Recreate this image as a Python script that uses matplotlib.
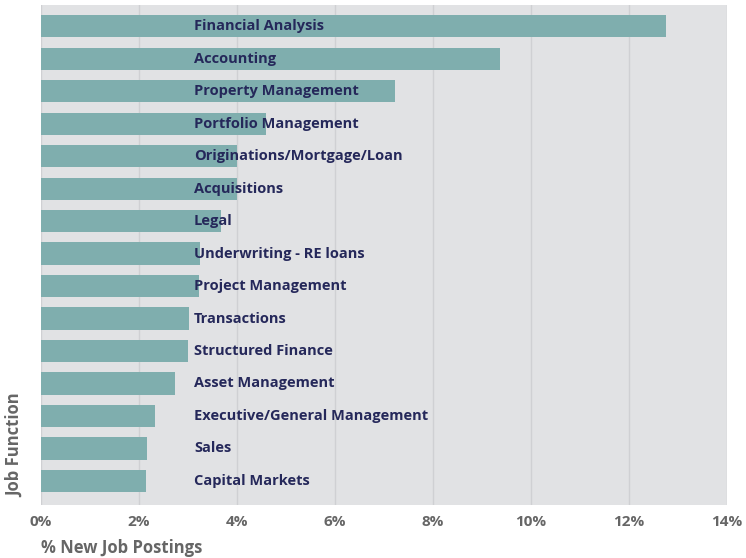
import matplotlib
matplotlib.use("Agg")
import matplotlib.pyplot as plt

# Job functions, top to bottom
functions = ['Financial Analysis', 'Accounting', 'Property Management',
             'Portfolio Management', 'Originations/Mortgage/Loan', 'Acquisitions',
             'Legal', 'Underwriting - RE loans', 'Project Management',
             'Transactions', 'Structured Finance', 'Asset Management',
             'Executive/General Management', 'Sales', 'Capital Markets']

# % of new job postings
share = [12.75, 9.37, 7.22, 4.6, 4.0, 4.0, 3.67, 3.24, 3.22,
         3.02, 3.0, 2.73, 2.33, 2.16, 2.14]

xticks = [0, 2, 4, 6, 8, 10, 12, 14]
xtick_labels = ['0%', '2%', '4%', '6%', '8%', '10%', '12%', '14%']

label_x = 3.12  # where the category names start

plt.rcParams['font.family'] = ['Open Sans', 'DejaVu Sans']

fig = plt.figure(figsize=(7.46, 5.58), dpi=100)
ax = fig.add_axes([41 / 746, 53 / 558, 686 / 746, 500 / 558])
ax.set_facecolor('#e1e2e4')

ypos = list(range(len(functions)))[::-1]
ax.barh(ypos, share, height=0.68, color='#7faeae', zorder=2)

for y, name in zip(ypos, functions):
    ax.text(label_x, y, name, ha='left', va='center', fontsize=10.5,
            fontweight='bold', color='#25285a', zorder=3)

ax.set_xlim(0, 14)
ax.set_ylim(-0.74, 14.65)
ax.set_xticks(xticks)
ax.set_xticklabels(xtick_labels, fontsize=11, color='#666666', fontweight='bold')
ax.set_yticks([])
ax.tick_params(axis='x', length=0, pad=7)
ax.grid(axis='x', color='#cfd0d3', linewidth=1, zorder=1)
for s in ax.spines.values():
    s.set_visible(False)

fig.text(41 / 746, 1 - 548 / 558, '% New Job Postings', ha='left', va='center',
         fontsize=12, fontweight='bold', color='#666666')
fig.text(15 / 746, 1 - 497 / 558, 'Job Function', ha='center', va='bottom',
         rotation=90, fontsize=12, fontweight='bold', color='#666666')

fig.savefig('out.png', dpi=100)
